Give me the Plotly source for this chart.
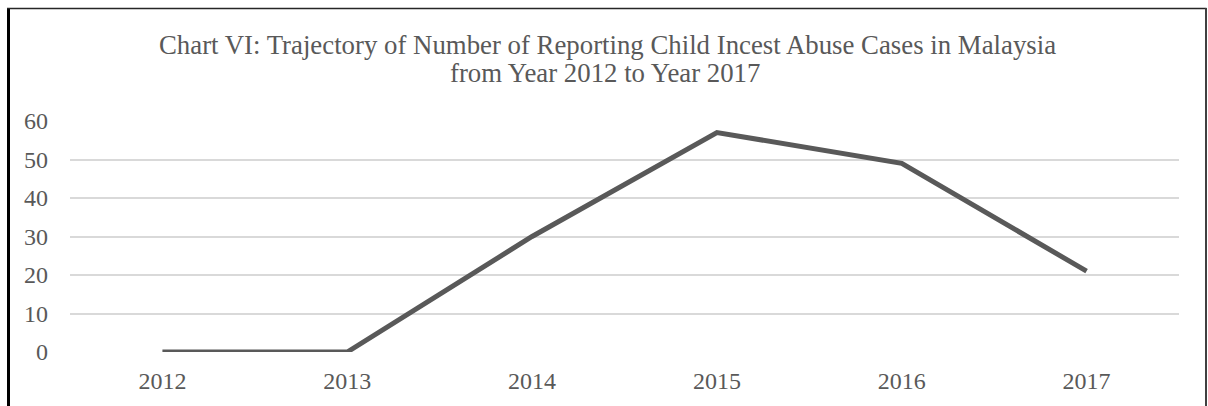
import plotly.graph_objects as go

years = ["2012", "2013", "2014", "2015", "2016", "2017"]
cases = [0, 0, 30, 57, 49, 21]
y_ticks = [0, 10, 20, 30, 40, 50, 60]
title_lines = [
    "Chart VI: Trajectory of Number of Reporting Child Incest Abuse Cases in Malaysia",
    "from Year 2012 to Year 2017",
]

W, H = 1208, 406
L, R, T, B = 70, 29, 121, 52
pw = W - L - R
ph = H - T - B

def px_x(x):
    return (x - L) / pw

def px_y(y):
    return (H - B - y) / ph

fig = go.Figure()
fig.add_trace(go.Scatter(
    x=years, y=cases, mode="lines",
    line=dict(color="#595959", width=5),
    hoverinfo="x+y", showlegend=False,
))

font_family = "Liberation Serif, Times New Roman, serif"
title_font = dict(family=font_family, size=26.8, color="#595959")
annotations = [
    dict(text=title_lines[0], xref="paper", yref="paper",
         x=px_x(607), y=px_y(44), xanchor="center", yanchor="middle",
         showarrow=False, font=title_font),
    dict(text=title_lines[1], xref="paper", yref="paper",
         x=px_x(605), y=px_y(73), xanchor="center", yanchor="middle",
         showarrow=False, font=title_font),
]

fig.update_layout(
    width=W, height=H,
    margin=dict(l=L, r=R, t=T, b=B),
    paper_bgcolor="white", plot_bgcolor="white",
    annotations=annotations,
    xaxis=dict(
        type="category", range=[-0.5, 5.5],
        showgrid=False, zeroline=False, showline=False, ticks="",
        tickfont=dict(family=font_family, size=24, color="#595959"),
        ticklabelstandoff=12,
    ),
    yaxis=dict(
        range=[0, 60], tickvals=y_ticks,
        showgrid=True, gridcolor="#d9d9d9", gridwidth=1.5,
        zeroline=False, showline=False, ticks="",
        tickfont=dict(family=font_family, size=24, color="#595959"),
        ticklabelstandoff=21,
    ),
    shapes=[
        dict(type="line", xref="paper", yref="paper",
             x0=px_x(8.5), x1=px_x(8.5), y0=px_y(7), y1=px_y(420),
             line=dict(color="#000000", width=3)),
        dict(type="line", xref="paper", yref="paper",
             x0=px_x(7), x1=px_x(1206.5), y0=px_y(7.5), y1=px_y(7.5),
             line=dict(color="#262626", width=1.5)),
        dict(type="line", xref="paper", yref="paper",
             x0=px_x(1206), x1=px_x(1206), y0=px_y(7), y1=px_y(420),
             line=dict(color="#404040", width=2)),
    ],
)

fig.write_html("out.html")
